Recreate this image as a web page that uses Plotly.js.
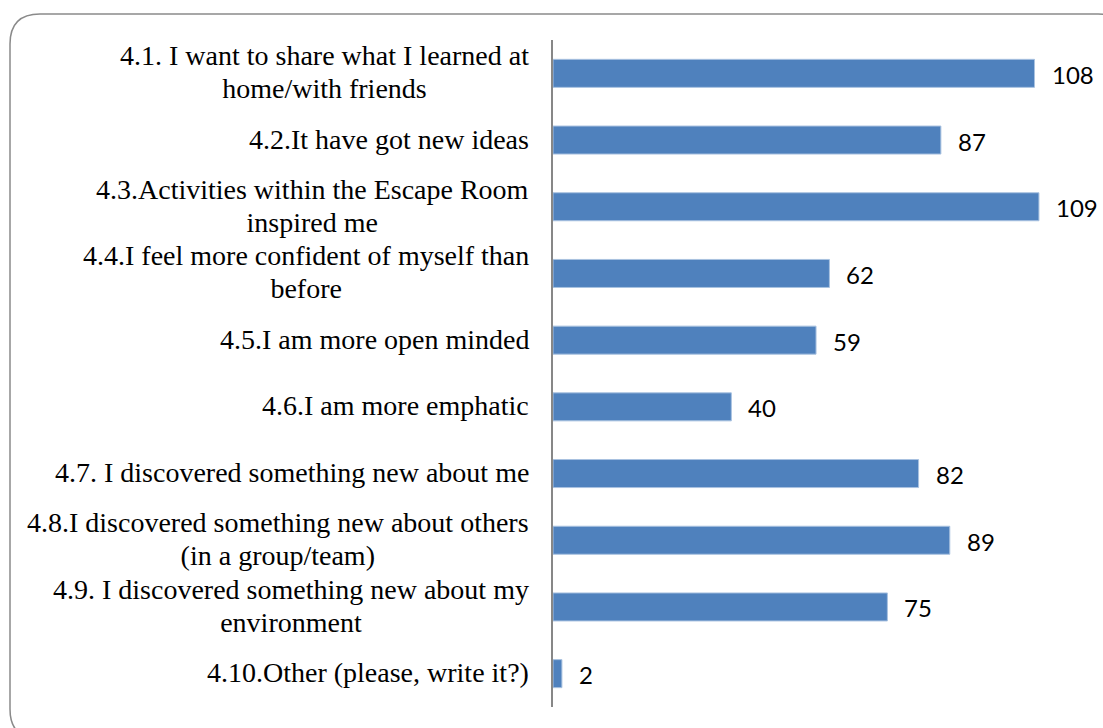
<!DOCTYPE html>
<html>
<head>
<meta charset="utf-8">
<script src="https://cdn.plot.ly/plotly-3.0.1.min.js"></script>
<style>
html,body{margin:0;padding:0;background:#fff;}
#chart{width:1103px;height:728px;}
</style>
</head>
<body>
<div id="chart"></div>
<script>
const categories = [
  "4.1. I want to share what I learned at<br>home/with friends",
  "4.2.It have got new ideas",
  "4.3.Activities within the Escape Room<br>inspired me",
  "4.4.I feel more confident of myself than<br>before",
  "4.5.I am more open minded",
  "4.6.I am more emphatic",
  "4.7. I discovered something new about me",
  "4.8.I discovered something new about others<br>(in a group/team)",
  "4.9. I discovered something new about my<br>environment",
  "4.10.Other (please, write it?)"
];
const values = [108, 87, 109, 62, 59, 40, 82, 89, 75, 2];

const W = 1103, H = 728;
const ML = 553, MR = 15, MT = 40, MB = 21;
const PW = W - ML - MR, PH = H - MT - MB;
const px = x => (x - ML) / PW;
const py = y => (H - MB - y) / PH;

// rounded frame (pixel positions converted to paper coordinates)
const L = 10, T = 14, R = 1128, B = 739, rad = 30;
const framePath =
  `M ${px(L)} ${py(T + rad)} Q ${px(L)} ${py(T)} ${px(L + rad)} ${py(T)} ` +
  `L ${px(R - rad)} ${py(T)} Q ${px(R)} ${py(T)} ${px(R)} ${py(T + rad)} ` +
  `L ${px(R)} ${py(B - rad)} Q ${px(R)} ${py(B)} ${px(R - rad)} ${py(B)} ` +
  `L ${px(L + rad)} ${py(B)} Q ${px(L)} ${py(B)} ${px(L)} ${py(B - rad)} Z`;

// line spacing follows the annotation font size (25px), glyphs drawn at 28px
const catAnnotations = categories.map(c => ({
  x: 0, xref: 'paper', xshift: -22, xanchor: 'right',
  y: c, yref: 'y', yanchor: 'middle', yshift: 1,
  text: c.split('<br>').map(s => '<span style="font-size:28px">' + s + '</span>').join('<br>'),
  showarrow: false, align: 'center',
  font: {family: 'Liberation Serif, Times New Roman, serif', size: 25, color: '#000'}
}));

const valAnnotations = categories.map((c, i) => ({
  x: values[i], xref: 'x', xanchor: 'left', xshift: 15,
  y: c, yref: 'y', yanchor: 'middle', yshift: -1,
  text: String(values[i]), showarrow: false,
  font: {family: 'Lato, Open Sans, sans-serif', size: 24, color: '#000'}
}));

const trace = {
  type: 'bar',
  orientation: 'h',
  x: values,
  y: categories,
  marker: {color: '#4f81bd', line: {color: '#a9c2e0', width: 1}},
  hoverinfo: 'x+y'
};

const layout = {
  width: W, height: H,
  margin: {l: ML, r: MR, t: MT, b: MB, pad: 0},
  paper_bgcolor: '#fff',
  plot_bgcolor: '#fff',
  showlegend: false,
  bargap: 0.58,
  xaxis: {range: [0, 120], visible: false, fixedrange: true},
  yaxis: {
    autorange: 'reversed', showticklabels: false, ticks: '',
    showgrid: false, zeroline: false,
    showline: true, linecolor: '#878787', linewidth: 2,
    fixedrange: true
  },
  annotations: catAnnotations.concat(valAnnotations),
  shapes: [{
    type: 'path', xref: 'paper', yref: 'paper', path: framePath,
    line: {color: '#8a8a8a', width: 1.5}, fillcolor: 'rgba(0,0,0,0)', layer: 'below'
  }]
};

Plotly.newPlot('chart', [trace], layout, {displayModeBar: false, staticPlot: true});
</script>
</body>
</html>
